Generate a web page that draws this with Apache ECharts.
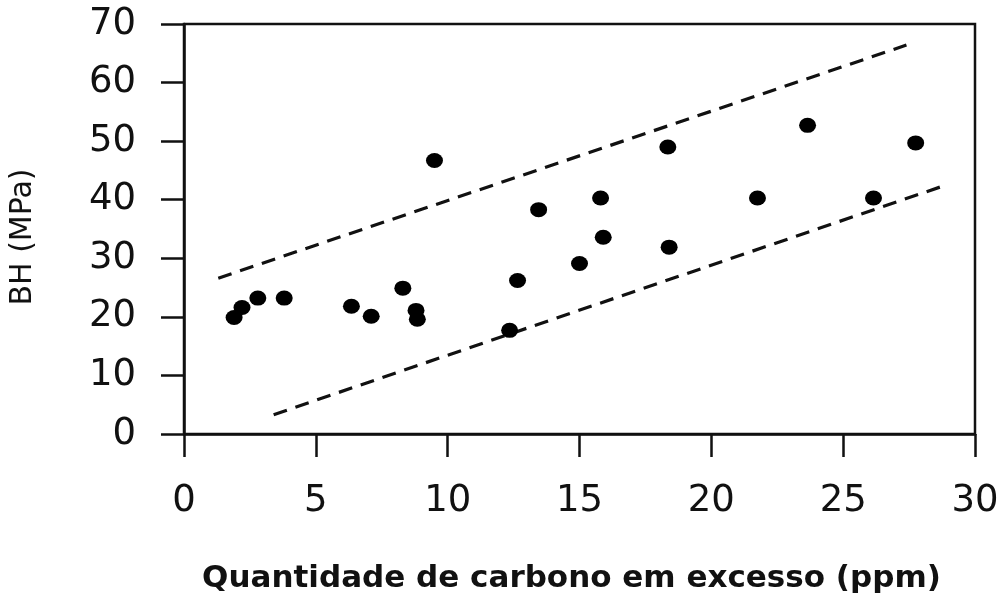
<!DOCTYPE html>
<html>
<head>
<meta charset="utf-8">
<script src="https://cdn.jsdelivr.net/npm/echarts@6/dist/echarts.min.js"></script>
<style>
  html, body { margin: 0; padding: 0; background: #fff; }
  #chart { width: 1005px; height: 599px; }
</style>
</head>
<body>
<div id="chart"></div>
<script>
// Excess carbon (ppm) against BH strength (MPa)
const carbonPpm = [1.9, 2.2, 2.8, 3.8, 6.35, 7.1, 8.3, 8.8, 8.85, 9.5,
                   12.35, 12.65, 13.45, 15.0, 15.8, 15.9, 18.35, 18.4,
                   21.75, 23.65, 26.15, 27.75];
const bhMpa = [19.9, 21.6, 23.2, 23.2, 21.8, 20.1, 24.9, 21.1, 19.6, 46.7,
               17.7, 26.2, 38.3, 29.1, 40.3, 33.6, 49.0, 31.9,
               40.3, 52.7, 40.3, 49.7];

// Dashed scatter band: start and end of each boundary
const upperBand = [[1.3, 26.6], [27.4, 66.4]];
const lowerBand = [[3.4, 3.3], [28.7, 42.2]];

const xTicks = { min: 0, max: 30, interval: 5 };
const yTicks = { min: 0, max: 70, interval: 10 };

const ink = '#111';
const chart = echarts.init(document.getElementById('chart'), null, { renderer: 'canvas' });

chart.setOption({
  backgroundColor: '#fff',
  animation: false,
  grid: {
    left: 178, right: 30, top: 24, bottom: 164,
    show: true, borderColor: ink, borderWidth: 2.5, backgroundColor: 'transparent'
  },
  xAxis: {
    type: 'value',
    min: xTicks.min, max: xTicks.max, interval: xTicks.interval,
    name: 'Quantidade de carbono em excesso (ppm)',
    nameLocation: 'middle', nameGap: 129,
    nameTextStyle: {
      fontFamily: 'DejaVu Sans', fontWeight: 'bold', fontSize: 31, color: ink,
      padding: [0, 16, 0, 0]
    },
    axisLine: { show: true, lineStyle: { color: ink, width: 2.5 } },
    axisTick: { show: true, inside: false, length: 23, lineStyle: { color: ink, width: 2.5 } },
    axisLabel: { fontFamily: 'DejaVu Sans', fontSize: 37, color: ink, margin: 49 },
    splitLine: { show: false }
  },
  yAxis: {
    type: 'value',
    min: yTicks.min, max: yTicks.max, interval: yTicks.interval,
    name: 'BH (MPa)',
    nameLocation: 'middle', nameGap: 146, nameRotate: 90,
    nameTextStyle: { fontFamily: 'DejaVu Sans', fontSize: 30, color: ink, padding: [0, 16, 0, 0] },
    axisLine: { show: true, lineStyle: { color: ink, width: 2.5 } },
    axisTick: { show: true, inside: false, length: 23, lineStyle: { color: ink, width: 2.5 } },
    axisLabel: { fontFamily: 'DejaVu Sans', fontSize: 37, color: ink, margin: 48 },
    splitLine: { show: false }
  },
  series: [
    {
      type: 'scatter',
      data: carbonPpm.map((c, i) => [c, bhMpa[i]]),
      symbol: 'circle',
      symbolSize: [17, 15],
      itemStyle: { color: '#000', opacity: 1 },
      z: 3
    },
    {
      type: 'line',
      data: upperBand,
      symbol: 'none',
      lineStyle: { color: ink, width: 3.2, type: [14, 9] },
      z: 2
    },
    {
      type: 'line',
      data: lowerBand,
      symbol: 'none',
      lineStyle: { color: ink, width: 3.2, type: [14, 9] },
      z: 2
    }
  ]
});
</script>
</body>
</html>
